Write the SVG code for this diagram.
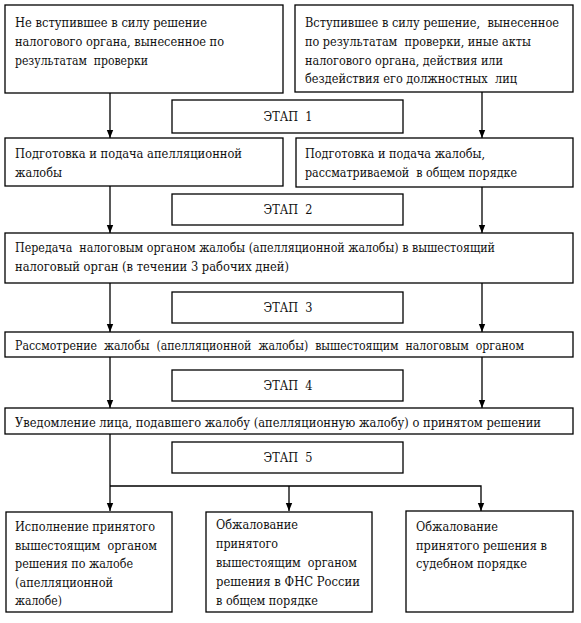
<svg xmlns="http://www.w3.org/2000/svg" width="581" height="623" viewBox="0 0 581 623">
<style>
rect{fill:#fff;stroke:#000;stroke-width:1.3}
text{font-family:"DejaVu Serif Condensed","DejaVu Serif","Liberation Serif",serif;font-stretch:condensed;font-size:13px;fill:#111;white-space:pre}
.c{text-anchor:middle}
.ln{fill:none;stroke:#000;stroke-width:1.3}
</style>
<defs>
<marker id="ah" viewBox="0 0 8 8" refX="8" refY="4" markerWidth="8" markerHeight="8" markerUnits="userSpaceOnUse" orient="auto">
<path d="M0,0.8 L8,4 L0,7.2 Z" fill="#000"/>
</marker>
</defs>
<rect width="581" height="623" style="stroke:none"/>
<g id="connectors">
<line class="ln" x1="110" y1="93" x2="110" y2="138" marker-end="url(#ah)"/>
<line class="ln" x1="482" y1="92" x2="482" y2="138" marker-end="url(#ah)"/>
<line class="ln" x1="110" y1="186" x2="110" y2="233" marker-end="url(#ah)"/>
<line class="ln" x1="482" y1="187" x2="482" y2="233" marker-end="url(#ah)"/>
<line class="ln" x1="110" y1="283" x2="110" y2="332" marker-end="url(#ah)"/>
<line class="ln" x1="482" y1="283" x2="482" y2="332" marker-end="url(#ah)"/>
<line class="ln" x1="110" y1="357" x2="110" y2="408" marker-end="url(#ah)"/>
<line class="ln" x1="482" y1="357" x2="482" y2="408" marker-end="url(#ah)"/>
<line class="ln" x1="110" y1="434" x2="110" y2="511" marker-end="url(#ah)"/>
<polyline class="ln" points="110,486 481,486 481,511" marker-end="url(#ah)"/>
<line class="ln" x1="289" y1="486" x2="289" y2="511" marker-end="url(#ah)"/>
</g>
<g id="top-left">
<rect x="5" y="5" width="278" height="88"/>
<text x="15" y="27" textLength="192" lengthAdjust="spacingAndGlyphs">Не вступившее в силу решение</text>
<text x="15" y="46" textLength="209" lengthAdjust="spacingAndGlyphs">налогового органа, вынесенное по</text>
<text x="15" y="65" textLength="133" lengthAdjust="spacingAndGlyphs">результатам  проверки</text>
</g>
<g id="top-right">
<rect x="295" y="5" width="278" height="87"/>
<text x="305" y="27" textLength="254" lengthAdjust="spacingAndGlyphs">Вступившее в силу решение,  вынесенное</text>
<text x="305" y="46" textLength="226" lengthAdjust="spacingAndGlyphs">по результатам  проверки, иные акты</text>
<text x="305" y="65" textLength="198" lengthAdjust="spacingAndGlyphs">налогового органа, действия или</text>
<text x="305" y="83" textLength="212" lengthAdjust="spacingAndGlyphs">бездействия его должностных  лиц</text>
</g>
<g id="stage1">
<rect x="172" y="100" width="231" height="33"/>
<text class="c" x="288" y="121" textLength="49" lengthAdjust="spacingAndGlyphs">ЭТАП  1</text>
</g>
<g id="prep-appeal">
<rect x="5" y="138" width="278" height="48"/>
<text x="15" y="158" textLength="227" lengthAdjust="spacingAndGlyphs">Подготовка и подача апелляционной</text>
<text x="15" y="177" textLength="47" lengthAdjust="spacingAndGlyphs">жалобы</text>
</g>
<g id="prep-complaint">
<rect x="296" y="138" width="277" height="49"/>
<text x="305" y="158" textLength="180" lengthAdjust="spacingAndGlyphs">Подготовка и подача жалобы,</text>
<text x="305" y="177" textLength="212" lengthAdjust="spacingAndGlyphs">рассматриваемой  в общем порядке</text>
</g>
<g id="stage2">
<rect x="172" y="194" width="231" height="31"/>
<text class="c" x="288" y="214" textLength="49" lengthAdjust="spacingAndGlyphs">ЭТАП  2</text>
</g>
<g id="transfer">
<rect x="5" y="233" width="568" height="50"/>
<text x="15" y="252" textLength="480" lengthAdjust="spacingAndGlyphs">Передача  налоговым органом жалобы (апелляционной жалобы) в вышестоящий</text>
<text x="15" y="271" textLength="274" lengthAdjust="spacingAndGlyphs">налоговый орган (в течении 3 рабочих дней)</text>
</g>
<g id="stage3">
<rect x="172" y="292" width="231" height="31"/>
<text class="c" x="288" y="312" textLength="49" lengthAdjust="spacingAndGlyphs">ЭТАП  3</text>
</g>
<g id="review">
<rect x="5" y="332" width="568" height="25"/>
<text x="15" y="350" textLength="509" lengthAdjust="spacingAndGlyphs">Рассмотрение  жалобы  (апелляционной  жалобы)  вышестоящим  налоговым  органом</text>
</g>
<g id="stage4">
<rect x="172" y="370" width="231" height="31"/>
<text class="c" x="288" y="390" textLength="49" lengthAdjust="spacingAndGlyphs">ЭТАП  4</text>
</g>
<g id="notify">
<rect x="5" y="408" width="568" height="26"/>
<text x="15" y="427" textLength="526" lengthAdjust="spacingAndGlyphs">Уведомление лица, подавшего жалобу (апелляционную жалобу) о принятом решении</text>
</g>
<g id="stage5">
<rect x="172" y="442" width="231" height="31"/>
<text class="c" x="288" y="462" textLength="49" lengthAdjust="spacingAndGlyphs">ЭТАП  5</text>
</g>
<g id="execute">
<rect x="6" y="512" width="166" height="100"/>
<text x="15" y="531" textLength="140" lengthAdjust="spacingAndGlyphs">Исполнение принятого</text>
<text x="15" y="550" textLength="142" lengthAdjust="spacingAndGlyphs">вышестоящим  органом</text>
<text x="15" y="568" textLength="118" lengthAdjust="spacingAndGlyphs">решения по жалобе</text>
<text x="15" y="587" textLength="98" lengthAdjust="spacingAndGlyphs">(апелляционной</text>
<text x="15" y="605" textLength="47" lengthAdjust="spacingAndGlyphs">жалобе)</text>
</g>
<g id="appeal-fns">
<rect x="206" y="512" width="166" height="100"/>
<text x="216" y="529" textLength="82" lengthAdjust="spacingAndGlyphs">Обжалование</text>
<text x="216" y="548" textLength="62" lengthAdjust="spacingAndGlyphs">принятого</text>
<text x="216" y="567" textLength="141" lengthAdjust="spacingAndGlyphs">вышестоящим  органом</text>
<text x="216" y="586" textLength="144" lengthAdjust="spacingAndGlyphs">решения в ФНС России</text>
<text x="216" y="605" textLength="102" lengthAdjust="spacingAndGlyphs">в общем порядке</text>
</g>
<g id="appeal-court">
<rect x="406" y="511" width="167" height="101"/>
<text x="416" y="531" textLength="82" lengthAdjust="spacingAndGlyphs">Обжалование</text>
<text x="416" y="550" textLength="131" lengthAdjust="spacingAndGlyphs">принятого решения в</text>
<text x="416" y="568" textLength="111" lengthAdjust="spacingAndGlyphs">судебном порядке</text>
</g>
</svg>
